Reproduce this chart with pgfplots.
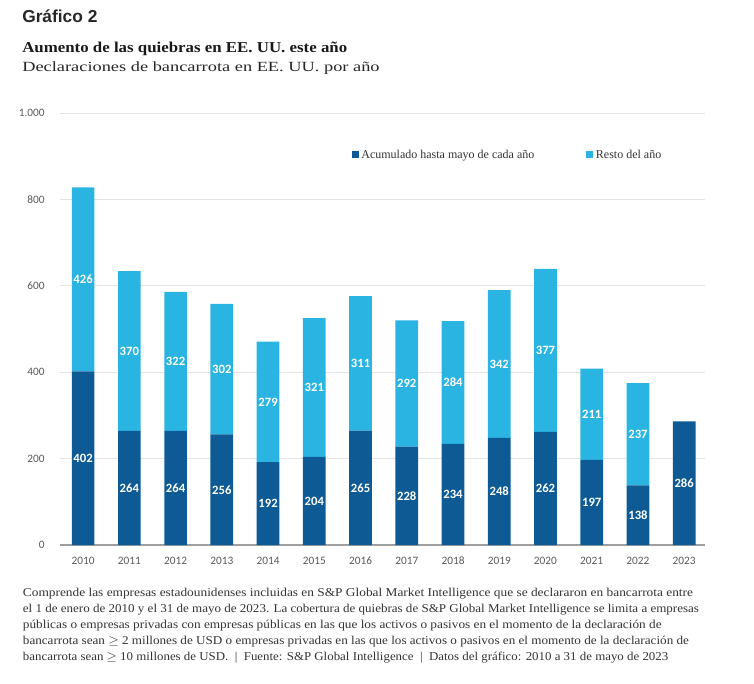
\documentclass[border=0pt]{standalone}
\usepackage{pgfplots}
\pgfplotsset{compat=1.18}
\usepackage{pgfplotstable}
\usepackage{fontspec}
\setmainfont{Liberation Serif}
\newfontfamily\arialf{Liberation Sans}
\newfontfamily\calf[Numbers=Lining]{Carlito}

\definecolor{darkb}{HTML}{0D5A94}
\definecolor{lightb}{HTML}{2AB4E2}
\definecolor{gridc}{HTML}{E4E4E4}
\definecolor{tickc}{HTML}{595959}
\definecolor{txtc}{HTML}{333333}

\pgfplotstableread{
x year acc rest
0 2010 402 426
1 2011 264 370
2 2012 264 322
3 2013 256 302
4 2014 192 279
5 2015 204 321
6 2016 265 311
7 2017 228 292
8 2018 234 284
9 2019 248 342
10 2020 262 377
11 2021 197 211
12 2022 138 237
13 2023 286 0
}\datatable

\pgfplotsset{
  common/.style={
    at={(45pt,103.5pt)}, anchor=south west, scale only axis,
    width=483.75pt, height=324pt,
    xmin=-0.5, xmax=13.45, ymin=0, ymax=1000,
    /pgf/number format/assume math mode=true,
  }
}

\begin{document}
\begin{tikzpicture}
\useasboundingbox (0,0) rectangle (565.5pt,512.25pt);
\begin{axis}[common,
  ybar stacked, bar width=17pt,
  xtick={0,...,13},
  xticklabels={2010,2011,2012,2013,2014,2015,2016,2017,2018,2019,2020,2021,2022,2023},
  ytick={0,200,400,600,800,1000},
  yticklabels={0,200,400,600,800,1.000},
  ymajorgrids, grid style={gridc, line width=0.6pt},
  axis x line*=bottom, axis y line*=left,
  y axis line style={draw=none},
  x axis line style={draw=gray!75, line width=0.8pt, -},
  major tick length=0pt,
  yticklabel style={font=\calf\fontsize{8.5}{10}\selectfont, text=tickc, xshift=-8pt},
  xticklabel style={font=\calf\fontsize{8.5}{10}\selectfont, text=tickc, yshift=-5pt,
    text height=6pt, text depth=0pt},
  legend style={at={(0.452,0.903)}, anchor=west, draw=none, fill=none,
    legend columns=2, font=\fontsize{9}{11}\selectfont\color{txtc},
    /tikz/every even column/.style={column sep=37pt},
    inner sep=0pt},
  legend image code/.code={\fill[#1, draw=none] (0pt,-2.6pt) rectangle (5.2pt,2.6pt);},
]
\addplot[fill=darkb, draw=none] table[x=x, y=acc] {\datatable};
\addlegendentry{Acumulado hasta mayo de cada año}
\addplot[fill=lightb, draw=none] table[x=x, y=rest] {\datatable};
\addlegendentry{Resto del año}
\end{axis}

\begin{axis}[common, hide axis,
  nodes near coords, point meta=explicit,
  nodes near coords style={anchor=center, text=white, text height=6.5pt, text depth=0pt,
    font=\calf\bfseries\fontsize{9.5}{10}\selectfont},
]
\addplot[draw=none, mark=none] table[x=x, y expr=\thisrow{acc}/2, meta=acc] {\datatable};
\addplot[draw=none, mark=none, x filter/.expression={x>12.5 ? nan : x}] table[x=x, y expr=\thisrow{acc}+\thisrow{rest}/2, meta=rest] {\datatable};
\end{axis}

% titles
\node[anchor=base west, inner sep=0pt, font=\arialf\bfseries\fontsize{13}{15}\selectfont, text=black!85] at (16.5pt,495.25pt) {Gráfico 2};
\node[anchor=base west, inner sep=0pt, font=\bfseries\fontsize{11.3}{13}\selectfont, text=black!90] at (16.5pt,472.5pt) {\resizebox{243.75pt}{\height}{Aumento de las quiebras en EE. UU. este año}};
\node[anchor=base west, inner sep=0pt, font=\fontsize{10.5}{13}\selectfont, text=black!85] at (16.5pt,458.25pt) {\resizebox{268pt}{\height}{Declaraciones de bancarrota en EE. UU. por año}};

% footnote
\begin{scope}[every node/.style={anchor=base west, inner sep=0pt, font=\fontsize{9}{10}\selectfont, text=txtc}]
\node at (17pt,65.25pt) {\resizebox{502.5pt}{\height}{Comprende las empresas estadounidenses incluidas en S\&P Global Market Intelligence que se declararon en bancarrota entre}};
\node at (17pt,52.9pt) {\resizebox{507pt}{\height}{el 1 de enero de 2010 y el 31 de mayo de 2023. La cobertura de quiebras de S\&P Global Market Intelligence se limita a empresas}};
\node at (17pt,40.9pt) {\resizebox{479pt}{\height}{públicas o empresas privadas con empresas públicas en las que los activos o pasivos en el momento de la declaración de}};
\node at (17pt,28.9pt) {\resizebox{499.5pt}{\height}{bancarrota sean $\geq$ 2 millones de USD o empresas privadas en las que los activos o pasivos en el momento de la declaración de}};
\node at (17pt,16.9pt) {\resizebox{484pt}{\height}{bancarrota sean $\geq$ 10 millones de USD. \ | \ Fuente: S\&P Global Intelligence \ | \ Datos del gráfico: 2010 a 31 de mayo de 2023}};
\end{scope}
\end{tikzpicture}
\end{document}
